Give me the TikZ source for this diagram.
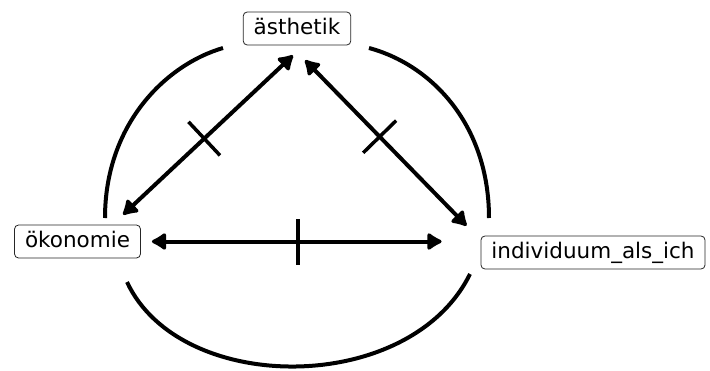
\documentclass[tikz,border=0pt]{standalone}
\usepackage{fontspec}
\setmainfont{DejaVu Sans}
\usetikzlibrary{arrows.meta,decorations.markings}

\tikzset{
  concept/.style={draw=black!85,line width=0.8pt,rounded corners=4pt,
    inner xsep=10.5pt,inner ysep=6.25pt,text height=16pt,text depth=4.5pt,
    font=\fontsize{21.5}{24}\selectfont},
  biarrow/.style={line width=4pt,line join=round,
    {Latex[length=17pt,width=21pt,round]}-{Latex[length=17pt,width=21pt,round]}},
  crossbar/.style={postaction={decorate},decoration={markings,
    mark=at position #1 with {\draw[line width=3.5pt,-,shorten <=0pt,shorten >=0pt]
      (0,-23pt) -- (0,23pt);}}},
  rim/.style={line width=4pt}
}

\begin{document}
\begin{tikzpicture}[x=1pt,y=-1pt]
  \useasboundingbox (0,0) rectangle (710,370);
  % the three poles
  \node[concept] (aes) at (297,28.5) {ästhetik};
  \node[concept] (oek) at (77.5,241.5) {ökonomie};
  \node[concept] (ind) at (593,252.5) {individuum\_als\_ich};
  % outer ring
  \draw[rim] (105,218) .. controls (105,125) and (165,65) .. (223,48);
  \draw[rim] (369,48) .. controls (432,65) and (489,125) .. (489,218);
  \draw[rim] (127,282) .. controls (180,396) and (410,396) .. (470,274);
  % relations
  \draw[biarrow,crossbar=0.52,shorten <=14.6pt,shorten >=14.6pt]
    ([xshift=6.6pt]aes.south) -- ([xshift=35pt]oek.north);
  \draw[biarrow,crossbar=0.48,shorten <=20.8pt,shorten >=13.9pt]
    ([xshift=-6.4pt]aes.south) -- ([xshift=-4.4pt]ind.north west);
  \draw[biarrow,crossbar=0.463,shorten <=11pt,shorten >=39pt]
    (oek.east) -- (oek.east -| ind.west);
\end{tikzpicture}
\end{document}
